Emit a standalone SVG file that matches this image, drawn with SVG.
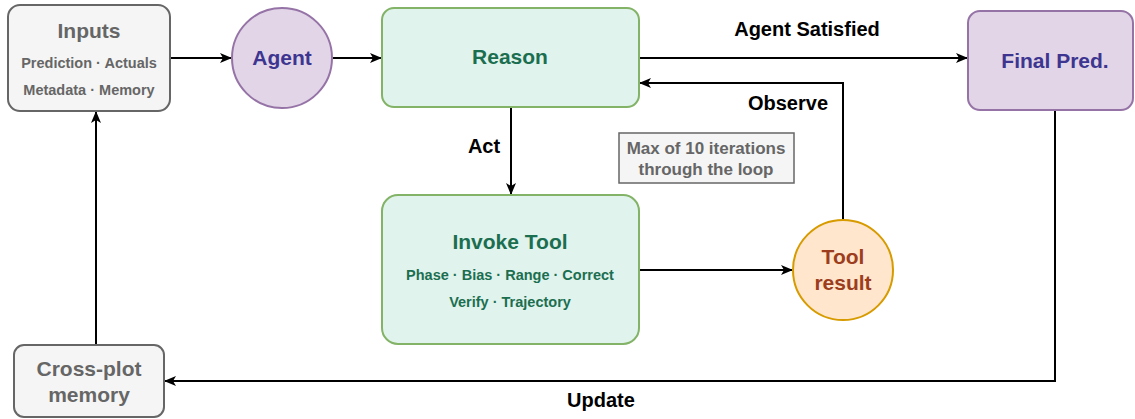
<svg xmlns="http://www.w3.org/2000/svg" width="1135" height="419" viewBox="0 0 1135 419">
<style>
text{font-family:"Liberation Sans",Arial,sans-serif;font-weight:bold;text-anchor:middle}
.big{font-size:21px}
.sm{font-size:14.5px}
.gray{fill:#666666}
.grn{fill:#1b6e50}
.pur{fill:#3d3590}
.brn{fill:#9c3d1d}
.lbl{fill:#000;font-size:20px}
.conn{fill:none;stroke:#000;stroke-width:2}
</style>
<defs>
<marker id="arr" viewBox="0 0 12 10" refX="11" refY="5" markerWidth="12" markerHeight="10" markerUnits="userSpaceOnUse" orient="auto">
<path d="M0,0 L12,5 L0,10 L3,5 z" fill="#000"/>
</marker>
</defs>
<g id="connectors">
<path class="conn" d="M170,58 L231,58" marker-end="url(#arr)"/>
<path class="conn" d="M333,58 L381,58" marker-end="url(#arr)"/>
<path class="conn" d="M639,58 L967,58" marker-end="url(#arr)"/>
<path class="conn" d="M843,220 L843,83 L640,83" marker-end="url(#arr)"/>
<path class="conn" d="M511,107 L511,194" marker-end="url(#arr)"/>
<path class="conn" d="M639,270 L792,270" marker-end="url(#arr)"/>
<path class="conn" d="M1055,110 L1055,381 L165,381" marker-end="url(#arr)"/>
<path class="conn" d="M96,345 L96,112" marker-end="url(#arr)"/>
<text class="lbl" x="807" y="36">Agent Satisfied</text>
<text class="lbl" x="788" y="110">Observe</text>
<text class="lbl" x="484" y="153">Act</text>
<text class="lbl" x="601" y="407">Update</text>
</g>
<g id="inputs">
<rect x="8" y="5" width="162" height="106" rx="12" fill="#f5f5f5" stroke="#666666" stroke-width="2"/>
<text class="big gray" x="89" y="38">Inputs</text>
<text class="sm gray" x="89" y="68">Prediction · Actuals</text>
<text class="sm gray" x="89" y="95">Metadata · Memory</text>
</g>
<g id="agent">
<circle cx="282" cy="58" r="50" fill="#e1d5e7" stroke="#9673a6" stroke-width="2"/>
<text class="big pur" x="282" y="65">Agent</text>
</g>
<g id="reason">
<rect x="382" y="8" width="257" height="99" rx="12" fill="#e0f3ec" stroke="#82b366" stroke-width="2"/>
<text class="big grn" x="510" y="64">Reason</text>
</g>
<g id="final">
<rect x="968" y="11" width="165" height="99" rx="12" fill="#e1d5e7" stroke="#9673a6" stroke-width="2"/>
<text class="big pur" x="1055" y="68">Final Pred.</text>
</g>
<g id="maxnote">
<rect x="619" y="133" width="175" height="50" fill="#f5f5f5" stroke="#666666" stroke-width="1.5"/>
<text class="gray" style="font-size:17px" x="706" y="154">Max of 10 iterations</text>
<text class="gray" style="font-size:17px" x="706" y="175">through the loop</text>
</g>
<g id="invoke">
<rect x="382" y="195" width="257" height="149" rx="16" fill="#e0f3ec" stroke="#82b366" stroke-width="2"/>
<text class="big grn" x="510" y="249">Invoke Tool</text>
<text class="sm grn" x="510" y="280">Phase · Bias · Range · Correct</text>
<text class="sm grn" x="510" y="307">Verify · Trajectory</text>
</g>
<g id="toolresult">
<circle cx="843" cy="270" r="50" fill="#ffe6cc" stroke="#d79b00" stroke-width="2"/>
<text class="big brn" x="843" y="264">Tool</text>
<text class="big brn" x="843" y="290">result</text>
</g>
<g id="memory">
<rect x="14" y="345" width="150" height="72" rx="10" fill="#f5f5f5" stroke="#666666" stroke-width="2"/>
<text class="big gray" x="89" y="376">Cross-plot</text>
<text class="big gray" x="89" y="402">memory</text>
</g>
</svg>
